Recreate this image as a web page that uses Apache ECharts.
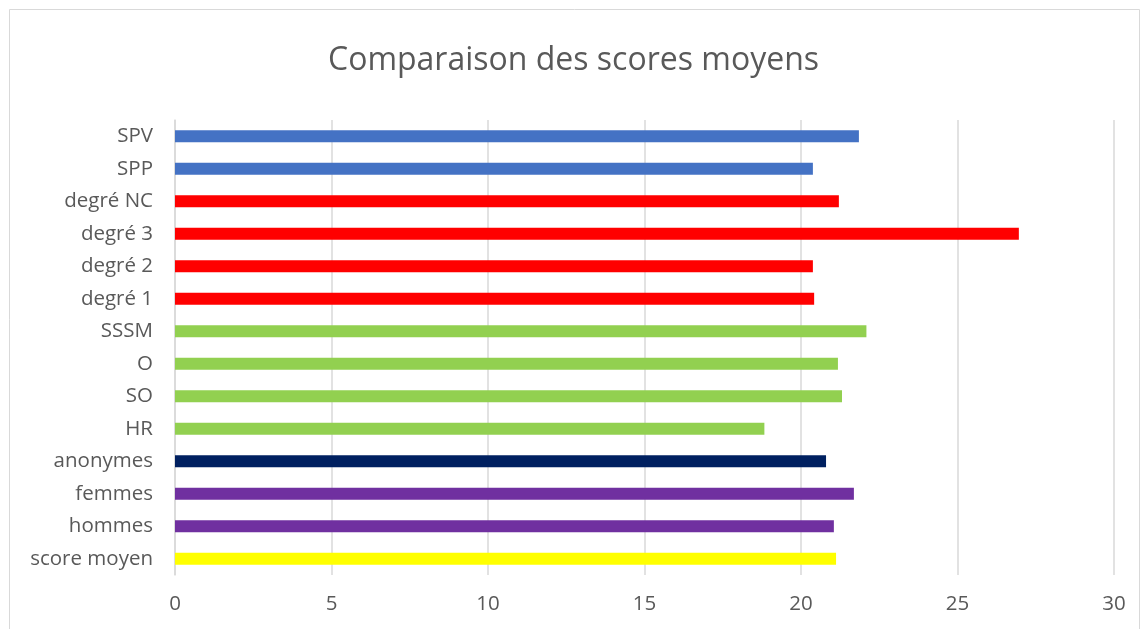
<!DOCTYPE html>
<html>
<head>
<meta charset="utf-8">
<script src="https://cdn.jsdelivr.net/npm/echarts@6/dist/echarts.min.js"></script>
<style>
    html, body { margin: 0; padding: 0; background: #fff; }
    #chart { width: 1147px; height: 629px; }
</style>
</head>
<body>
<div id="chart"></div>
<script>
// categories, bottom to top (as echarts draws them)
var categories = ['score moyen', 'hommes', 'femmes', 'anonymes', 'HR', 'SO', 'O', 'SSSM',
    'degré 1', 'degré 2', 'degré 3', 'degré NC', 'SPP', 'SPV'];
var scores = [21.12, 21.05, 21.69, 20.80, 18.83, 21.31, 21.18, 22.09,
    20.42, 20.38, 26.96, 21.21, 20.38, 21.85];
var groupColors = ['#FFFF00', '#7030A0', '#7030A0', '#002060', '#92D050', '#92D050', '#92D050', '#92D050',
    '#FF0000', '#FF0000', '#FF0000', '#FF0000', '#4472C4', '#4472C4'];

var fontName = '"Open Sans", Lato, sans-serif';

var myChart = echarts.init(document.getElementById('chart'));
var option = {
    backgroundColor: '#fff',
    animation: false,
    title: {
        text: 'Comparaison des scores moyens',
        left: 'center',
        top: 40,
        textStyle: {
            color: '#595959',
            fontSize: 32,
            fontWeight: 'normal',
            fontFamily: fontName
        }
    },
    graphic: [{
        type: 'rect',
        shape: { x: 9.5, y: 9.5, width: 1130, height: 640 },
        style: { fill: 'none', stroke: '#d9d9d9', lineWidth: 1 },
        silent: true
    }],
    grid: {
        left: 175,
        right: 33,
        top: 120,
        bottom: 54
    },
    xAxis: {
        type: 'value',
        min: 0,
        max: 30,
        interval: 5,
        axisLine: { show: false },
        axisTick: { show: false },
        axisLabel: {
            color: '#595959',
            fontSize: 20.5,
            fontFamily: fontName,
            margin: 19
        },
        splitLine: {
            show: true,
            lineStyle: { color: '#d9d9d9', width: 1.5 }
        }
    },
    yAxis: {
        type: 'category',
        data: categories,
        axisLine: {
            show: true,
            lineStyle: { color: '#d9d9d9', width: 1.5 }
        },
        axisTick: { show: false },
        axisLabel: {
            color: '#595959',
            fontSize: 20.5,
            fontFamily: fontName,
            margin: 22
        }
    },
    series: [{
        type: 'bar',
        barWidth: 12,
        data: scores.map(function (v, i) {
            return { value: v, itemStyle: { color: groupColors[i] } };
        })
    }]
};
myChart.setOption(option);
</script>
</body>
</html>
